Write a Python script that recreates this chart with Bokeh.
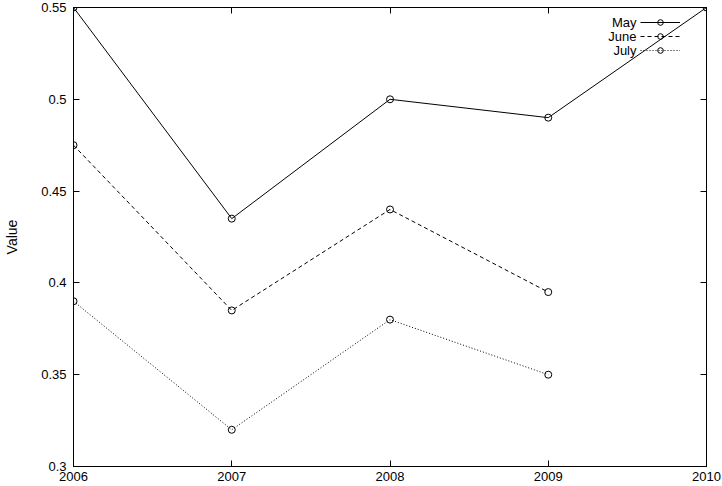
from bokeh.plotting import figure
from bokeh.models import Range1d, FixedTicker, LinearAxis, Legend, LegendItem, Label
from bokeh.embed import file_html
from bokeh.resources import INLINE

years = [2006, 2007, 2008, 2009, 2010]
may = [0.55, 0.435, 0.50, 0.49, 0.55]
june_years = [2006, 2007, 2008, 2009]
june = [0.475, 0.385, 0.44, 0.395]
july_years = [2006, 2007, 2008, 2009]
july = [0.39, 0.32, 0.38, 0.35]
series_names = ["May", "June", "July"]

y_ticks = [0.3, 0.35, 0.4, 0.45, 0.5, 0.55]
y_tick_labels = ["0.3", "0.35", "0.4", "0.45", "0.5", "0.55"]
x_ticks = [2006, 2007, 2008, 2009, 2010]

FONT = "Liberation Sans"
FS = "13px"

p = figure(width=722, height=486, output_backend="svg", toolbar_location=None,
           x_range=Range1d(2006, 2010), y_range=Range1d(0.3, 0.55),
           x_axis_location=None, y_axis_location=None,
           min_border_left=73, min_border_right=16, min_border_top=7, min_border_bottom=20)
p.xgrid.visible = False
p.ygrid.visible = False
p.outline_line_color = "black"
p.outline_line_width = 1
p.background_fill_color = "white"
p.border_fill_color = "white"

def make_axis(kind, labels):
    ax = LinearAxis()
    if kind == "x":
        ax.ticker = FixedTicker(ticks=x_ticks)
        ax.major_label_overrides = {t: (str(t) if labels else "") for t in x_ticks}
    else:
        ax.ticker = FixedTicker(ticks=y_ticks)
        ax.major_label_overrides = {t: (s if labels else "") for t, s in zip(y_ticks, y_tick_labels)}
    ax.major_tick_in = 6
    ax.major_tick_out = 0
    ax.minor_tick_line_color = None
    ax.axis_line_color = "black"
    ax.major_tick_line_color = "black"
    ax.major_label_text_font = FONT
    ax.major_label_text_font_size = FS
    ax.major_label_text_color = "black"
    if not labels:
        ax.major_label_standoff = 0
    return ax

left = make_axis("y", True)
left.axis_label = "Value"
left.axis_label_text_font = FONT
left.axis_label_text_font_size = "14px"
left.axis_label_text_font_style = "normal"
left.axis_label_text_color = "black"
left.axis_label_standoff = 18
left.major_label_standoff = 7
bottom = make_axis("x", True)
bottom.major_label_standoff = 5
right = make_axis("y", False)
top = make_axis("x", False)
p.add_layout(left, "left")
p.add_layout(bottom, "below")
p.add_layout(right, "right")
p.add_layout(top, "above")

l1 = p.line(years, may, line_color="black", line_width=1)
m1 = p.scatter(years, may, marker="circle", size=7, fill_color=None, line_color="black", line_width=1)
l2 = p.line(june_years, june, line_color="black", line_width=1, line_dash="4 3")
m2 = p.scatter(june_years, june, marker="circle", size=7, fill_color=None, line_color="black", line_width=1)
l3 = p.line(july_years, july, line_color="black", line_width=1, line_dash="1 2")
m3 = p.scatter(july_years, july, marker="circle", size=7, fill_color=None, line_color="black", line_width=1)

# gnuplot-style key: samples from the legend, names right-aligned to their left
legend = Legend(items=[
    LegendItem(label=" ", renderers=[l1, m1]),
    LegendItem(label=" ", renderers=[l2, m2]),
    LegendItem(label=" ", renderers=[l3, m3]),
], location=(567, 409))
legend.border_line_color = None
legend.background_fill_alpha = 0
legend.label_text_font = FONT
legend.label_text_font_size = "12px"
legend.glyph_width = 40
legend.glyph_height = 14
legend.label_height = 14
legend.label_standoff = 0
legend.spacing = 0
legend.padding = 0
legend.margin = 0
p.add_layout(legend)

for i, name in enumerate(series_names):
    p.add_layout(Label(x=563, y=444 - 14 * i, x_units="screen", y_units="screen",
                       text=name, text_align="right", text_baseline="middle",
                       text_font=FONT, text_font_size=FS, text_color="black"))

open("out.html", "w").write(file_html(p, INLINE))
